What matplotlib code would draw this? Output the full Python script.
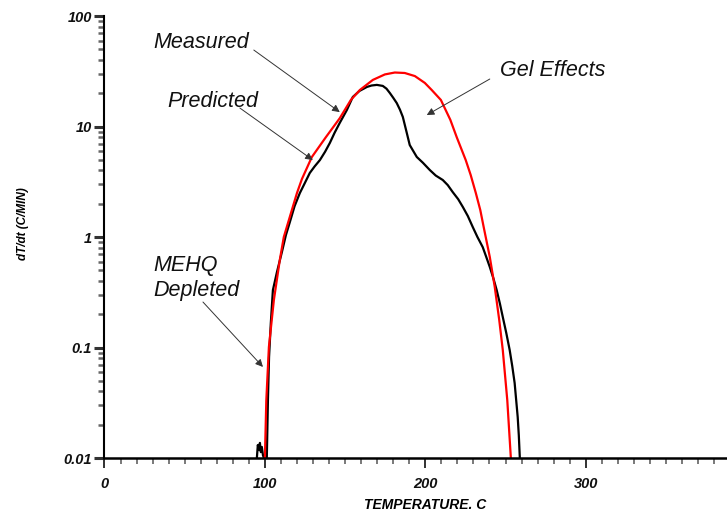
import numpy as np
import matplotlib
matplotlib.use('Agg')
from matplotlib import pyplot as plt
from matplotlib.ticker import NullFormatter, FixedLocator, MultipleLocator

# predicted (red) curve
pred_temp = [100.0, 100.9, 102.5, 105.6, 109.3, 111.8, 116.8, 120.0, 123.1, 129.3, 138.0,
             146.7, 153.6, 159.2, 167.3, 174.8, 181.0, 187.2, 193.5, 199.7, 204.0,
             209.7, 215.6, 219.6, 225.2, 228.3, 231.5, 234.3, 236.4, 240.2, 243.3,
             246.1, 248.3, 251.1, 253.3]
pred_rate = [0.01, 0.0335, 0.101, 0.269, 0.62, 1.0, 1.75, 2.5, 3.35, 5.3, 8.0,
             11.9, 17.4, 21.4, 26.4, 29.6, 30.8, 30.5, 28.6, 24.8, 21.4,
             17.4, 11.5, 8.0, 4.97, 3.64, 2.50, 1.75, 1.23, 0.66, 0.353,
             0.177, 0.095, 0.0335, 0.0102]

# measured (black) curve
meas_temp = [95.0, 95.6, 96.3, 96.9, 97.5, 98.1, 98.8, 99.4, 101.2, 101.9,
             102.6, 103.7, 105.0, 107.5, 110.6, 113.1, 115.6, 118.5, 121.8, 125.0,
             128.0, 131.0, 134.3, 137.5, 140.5, 143.5, 146.7, 151.1, 154.8, 159.0,
             163.6, 166.5, 169.8, 173.5, 175.8, 177.9, 180.0, 182.2, 184.2, 186.0,
             188.5, 190.3, 192.5, 194.7, 198.5, 202.8, 206.5, 210.9, 214.0, 217.1,
             220.5, 223.4, 226.5, 229.6, 232.5, 235.8, 238.0, 240.2, 242.5, 244.5,
             246.5, 248.3, 250.5, 252.6, 254.2, 255.7, 257.6, 258.3, 258.9]
meas_rate = [0.01, 0.0131, 0.0118, 0.0137, 0.0113, 0.0126, 0.0106, 0.01, 0.01, 0.0335,
             0.082, 0.167, 0.331, 0.48, 0.73, 1.04, 1.37, 1.9, 2.50, 3.1,
             3.80, 4.35, 4.97, 5.9, 7.1, 8.8, 10.8, 14.1, 18.5, 21.0,
             22.8, 23.5, 23.8, 23.3, 22.0, 20.1, 18.2, 16.3, 14.2, 12.2,
             8.7, 6.8, 6.0, 5.3, 4.7, 4.04, 3.6, 3.28, 2.95, 2.55,
             2.2, 1.87, 1.55, 1.23, 1.0, 0.81, 0.66, 0.536, 0.42, 0.331,
             0.25, 0.189, 0.135, 0.095, 0.068, 0.0477, 0.0235, 0.016, 0.0102]

x_ticks = [0, 100, 200, 300, 400]
y_ticks = [0.01, 0.1, 1, 10, 100]
y_labels = ['0.01', '0.1', '1', '10', '100']

plt.rcParams['font.family'] = ['Liberation Sans', 'DejaVu Sans']

fig = plt.figure(figsize=(7.27, 5.13), dpi=100)
ax = fig.add_axes([0.1437, 0.1072, 0.8826, 0.8616])

ax.plot(meas_temp, meas_rate, color='black', lw=1.6)
ax.plot(pred_temp, pred_rate, color='#ff0000', lw=1.6)

ax.set_yscale('log')
ax.set_xlim(0, 400)
ax.set_ylim(0.01, 100)

for side in ['top', 'right']:
    ax.spines[side].set_visible(False)
ax.spines['left'].set_linewidth(1.5)
ax.spines['bottom'].set_linewidth(1.8)

ax.xaxis.set_major_locator(FixedLocator(x_ticks))
ax.xaxis.set_minor_locator(MultipleLocator(10))
ax.yaxis.set_major_locator(FixedLocator(y_ticks))
ax.yaxis.set_minor_locator(FixedLocator([m * 10.0 ** e for e in range(-2, 2) for m in range(2, 10)]))
ax.yaxis.set_minor_formatter(NullFormatter())
ax.set_yticklabels(y_labels)
ax.set_xticklabels([str(t) for t in x_ticks])

ax.xaxis.set_tick_params(which='major', length=7, width=1.3, color='#222222', direction='out', pad=7)
ax.xaxis.set_tick_params(which='minor', length=4, width=1.1, color='#555555', direction='out')
ax.yaxis.set_tick_params(which='major', length=7, width=2.2, color='#333333', direction='out', pad=2)
ax.yaxis.set_tick_params(which='minor', length=4, width=1.8, color='#666666', direction='out')
for lab in ax.get_xticklabels() + ax.get_yticklabels():
    lab.set_fontsize(10.5)
    lab.set_fontweight('bold')
    lab.set_fontstyle('italic')
    lab.set_color('#111111')

ax.set_xlabel('TEMPERATURE. C', fontsize=10, fontweight='bold', fontstyle='italic', labelpad=5)
fig.text(0.032, 0.565, 'dT/dt (C/MIN)', rotation=90, fontsize=8.5, fontweight='bold',
         fontstyle='italic', ha='center', va='center')

# annotations
arrow = dict(arrowstyle='-|>', color='#333333', lw=0.7, mutation_scale=11, shrinkA=0, shrinkB=0)
txt = dict(fontsize=15.5, fontstyle='italic', color='#111111', ha='left', va='center')

ax.text(30.2, 57, 'Measured', **txt)
ax.annotate('', xy=(146.7, 13.5), xytext=(93.1, 49.2), arrowprops=arrow)

ax.text(39.0, 17.0, 'Predicted', **txt)
ax.annotate('', xy=(129.9, 4.97), xytext=(84.4, 14.7), arrowprops=arrow)

ax.text(246.4, 32.4, 'Gel Effects', **txt)
ax.annotate('', xy=(200.9, 12.7), xytext=(240.2, 26.9), arrowprops=arrow)

ax.text(30.2, 0.426, 'MEHQ\nDepleted', linespacing=1.3, **txt)
ax.annotate('', xy=(98.8, 0.0667), xytext=(61.4, 0.258), arrowprops=arrow)

fig.savefig('out.png', dpi=100)
